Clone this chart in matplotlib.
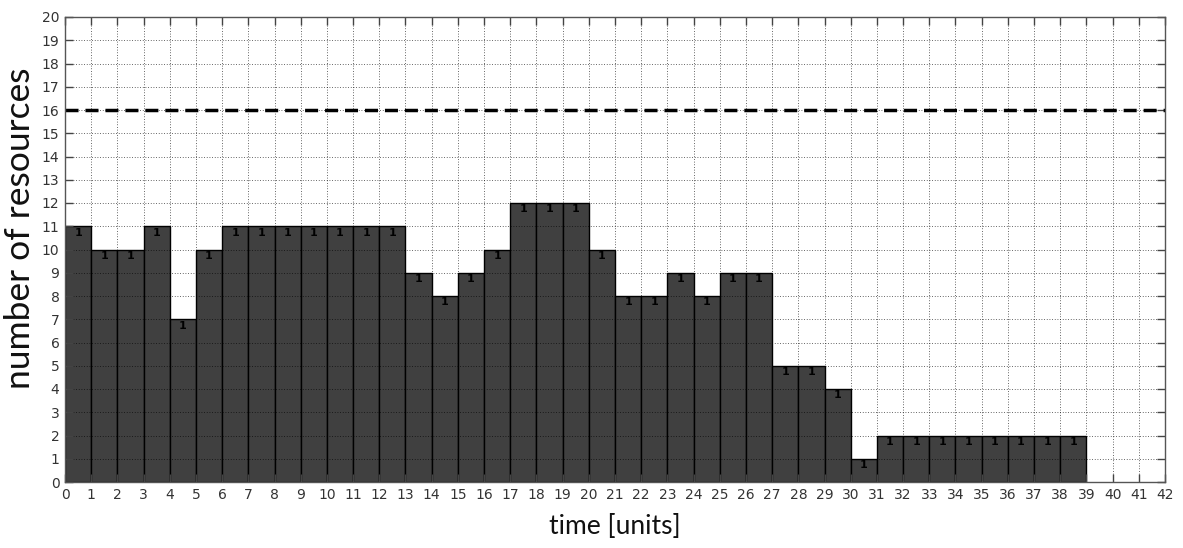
import matplotlib
matplotlib.use("Agg")
import matplotlib.pyplot as plt
import numpy as np

# data
time_slots = list(range(39))
resources = [11, 10, 10, 11, 7, 10, 11, 11, 11, 11, 11, 11, 11, 9, 8, 9, 10, 12, 12, 12,
             10, 8, 8, 9, 8, 9, 9, 5, 5, 4, 1, 2, 2, 2, 2, 2, 2, 2, 2]
bar_labels = ["1"] * len(resources)
capacity = 16
x_ticks = list(range(0, 43))
y_ticks = list(range(0, 21))
x_label = "time [units]"
y_label = "number of resources"

fig = plt.figure(figsize=(11.83, 5.48), dpi=100)
ax = fig.add_axes([65/1183, 1-482/548, 1100/1183, 465/548])

ax.bar(time_slots, resources, width=1.0, align="edge", color="#404040",
       edgecolor="black", linewidth=1.0, zorder=2)
for t, v, lab in zip(time_slots, resources, bar_labels):
    ax.text(t + 0.5, v - 0.06, lab, ha="center", va="top", fontsize=8,
            fontweight="bold", color="black", zorder=4)

ax.axhline(capacity, color="black", linewidth=2.5, linestyle=(0, (3.75, 2.0)), zorder=5)

ax.set_xlim(0, 42)
ax.set_ylim(0, 20)
ax.set_xticks(x_ticks)
ax.set_yticks(y_ticks)
ax.grid(True, color="black", linewidth=0.6, linestyle=(0, (1, 2.2)), alpha=0.8, zorder=3)
ax.set_axisbelow(False)
ax.tick_params(direction="in", top=True, right=True, length=6, width=1,
               color="#444444", labelsize=10, labelcolor="#333333", pad=4)
for s in ax.spines.values():
    s.set_color("#555555")
    s.set_linewidth(1.0)
    s.set_zorder(6)

ax.set_xlabel(x_label, fontfamily="Lato", fontsize=19, color="#111111", labelpad=9)
ax.set_ylabel(y_label, fontfamily="Lato", fontsize=25.5, color="#111111")
ax.yaxis.set_label_coords(-0.026, 0.545)

fig.savefig("out.png", dpi=100)
